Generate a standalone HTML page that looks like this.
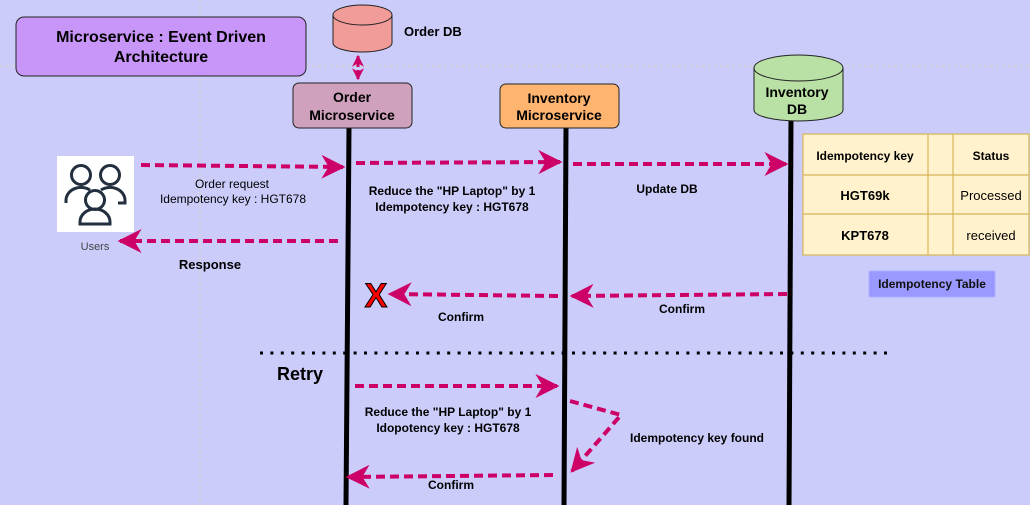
<!DOCTYPE html>
<html><head><meta charset="utf-8"><style>
html,body{margin:0;padding:0;background:#ccccfb;}
svg{display:block;font-family:"Liberation Sans",Arial,sans-serif;}
</style></head><body>
<svg width="1030" height="505" viewBox="0 0 1030 505" xmlns="http://www.w3.org/2000/svg">
<defs>
<marker id="ah" viewBox="0 0 10 10" refX="9" refY="5" markerWidth="6" markerHeight="6" orient="auto-start-reverse" markerUnits="strokeWidth">
<path d="M0,0 L10,5 L0,10 L3,5 Z" fill="#cc0066"/></marker>
<marker id="ah2" viewBox="0 0 10 10" refX="9" refY="5" markerWidth="4" markerHeight="4" orient="auto-start-reverse" markerUnits="strokeWidth">
<path d="M0,0 L10,5 L0,10 L3,5 Z" fill="#cc0066"/></marker>
</defs>
<rect width="1030" height="505" fill="#ccccfb"/>
<line x1="200" y1="0" x2="200" y2="505" stroke="#ddd8c0" stroke-dasharray="3 3"/>
<line x1="0" y1="66" x2="1030" y2="66" stroke="#ddd8c0" stroke-dasharray="3 3"/>

<!-- lifelines -->
<line x1="349" y1="128" x2="346" y2="505" stroke="#000" stroke-width="5"/>
<line x1="566" y1="128" x2="564" y2="505" stroke="#000" stroke-width="5"/>
<line x1="791" y1="118" x2="789" y2="505" stroke="#000" stroke-width="5"/>

<!-- title -->
<rect x="16" y="17" width="290" height="59" rx="8" fill="#c896f8" stroke="#222"/>
<text x="161" y="42" font-size="16" font-weight="bold" text-anchor="middle">Microservice : Event Driven</text>
<text x="161" y="62" font-size="16" font-weight="bold" text-anchor="middle">Architecture</text>

<!-- Order DB -->
<path d="M333,15 v28 a29.5,9 0 0 0 59,0 v-28" fill="#f19c99" stroke="#222"/>
<ellipse cx="362.5" cy="15" rx="29.5" ry="10" fill="#f19c99" stroke="#222"/>
<text x="404" y="36" font-size="13" font-weight="bold">Order DB</text>
<line x1="358" y1="56" x2="358" y2="79" stroke="#cc0066" stroke-width="3" stroke-dasharray="4 3" marker-start="url(#ah2)" marker-end="url(#ah2)"/>

<!-- Order MS -->
<rect x="293" y="83" width="119" height="45" rx="6" fill="#cfa1bc" stroke="#222"/>
<text x="352" y="102" font-size="14" font-weight="bold" text-anchor="middle">Order</text>
<text x="352" y="120" font-size="14" font-weight="bold" text-anchor="middle">Microservice</text>

<!-- Inventory MS -->
<rect x="500" y="84" width="119" height="44" rx="6" fill="#ffb570" stroke="#222"/>
<text x="559" y="103" font-size="14" font-weight="bold" text-anchor="middle">Inventory</text>
<text x="559" y="120" font-size="14" font-weight="bold" text-anchor="middle">Microservice</text>

<!-- Inventory DB -->
<path d="M754,68 v42 a44.5,11 0 0 0 89,0 v-42" fill="#b9e0a5" stroke="#222"/>
<ellipse cx="798.5" cy="68" rx="44.5" ry="13" fill="#b9e0a5" stroke="#222"/>
<text x="797" y="97" font-size="14" font-weight="bold" text-anchor="middle">Inventory</text>
<text x="797" y="114" font-size="14" font-weight="bold" text-anchor="middle">DB</text>

<!-- table -->
<g stroke="#d6b656" stroke-width="1.2" fill="#fff2cc">
<rect x="803" y="134" width="226" height="121"/>
<line x1="803" y1="175" x2="1029" y2="175"/>
<line x1="803" y1="214" x2="1029" y2="214"/>
<line x1="928" y1="134" x2="928" y2="255"/>
<line x1="953" y1="134" x2="953" y2="255"/>
</g>
<text x="865" y="160" font-size="12" font-weight="bold" text-anchor="middle">Idempotency key</text>
<text x="991" y="160" font-size="12" font-weight="bold" text-anchor="middle">Status</text>
<text x="865" y="200" font-size="13" font-weight="bold" text-anchor="middle">HGT69k</text>
<text x="991" y="200" font-size="13" text-anchor="middle">Processed</text>
<text x="865" y="240" font-size="13" font-weight="bold" text-anchor="middle">KPT678</text>
<text x="991" y="240" font-size="13" text-anchor="middle">received</text>
<rect x="869" y="271" width="126" height="26" fill="#9999ff" stroke="#aab0ff"/>
<text x="932" y="288" font-size="12" font-weight="bold" text-anchor="middle" fill="#111">Idempotency Table</text>

<!-- users -->
<rect x="57" y="156" width="77" height="76" fill="#fff"/>
<g fill="none" stroke="#232f3e" stroke-width="3">
<circle cx="81" cy="175" r="9.5"/><path d="M66,203 v-3 a15,13 0 0 1 24,-10"/>
<circle cx="110" cy="175" r="9.5"/><path d="M101,190 a15,13 0 0 1 24,10 v3 h-7"/>
<circle cx="95" cy="200" r="9.5"/><path d="M80,224 v-2 a15,13 0 0 1 30,0 v2 z"/>
</g>
<text x="95" y="250" font-size="11" fill="#444" text-anchor="middle">Users</text>

<!-- arrows -->
<g stroke="#cc0066" stroke-width="4" stroke-dasharray="9 5" fill="none">
<line x1="141" y1="165" x2="343" y2="167" marker-end="url(#ah)"/>
<line x1="356" y1="163" x2="560" y2="162" marker-end="url(#ah)"/>
<line x1="573" y1="164" x2="786" y2="164" marker-end="url(#ah)"/>
<line x1="338" y1="241" x2="120" y2="241" marker-end="url(#ah)"/>
<line x1="787" y1="294" x2="572" y2="296" marker-end="url(#ah)"/>
<line x1="558" y1="296" x2="390" y2="294" marker-end="url(#ah)"/>
<line x1="355" y1="386" x2="557" y2="386" marker-end="url(#ah)"/>
<polyline points="570,401 621,415 572,471" marker-end="url(#ah)"/>
<line x1="553" y1="475" x2="348" y2="477" marker-end="url(#ah)"/>
</g>

<line x1="260" y1="353" x2="890" y2="353" stroke="#000" stroke-width="3" stroke-dasharray="3 7.4"/>

<!-- red X -->
<text x="376" y="307" font-size="34" font-weight="bold" fill="#ff0000" stroke="#000" stroke-width="1" text-anchor="middle">X</text>

<!-- labels -->
<g font-size="12" text-anchor="middle" fill="#000">
<text x="232" y="188">Order request</text>
<text x="233" y="203">Idempotency key : HGT678</text>
<text x="452" y="195" font-weight="bold">Reduce the "HP Laptop" by 1</text>
<text x="452" y="211" font-weight="bold">Idempotency key : HGT678</text>
<text x="667" y="193" font-weight="bold">Update DB</text>
<text x="210" y="269" font-size="13" font-weight="bold">Response</text>
<text x="682" y="313" font-weight="bold">Confirm</text>
<text x="461" y="321" font-weight="bold">Confirm</text>
<text x="448" y="416" font-weight="bold">Reduce the "HP Laptop" by 1</text>
<text x="448" y="432" font-weight="bold">Idopotency key : HGT678</text>
<text x="697" y="442" font-weight="bold">Idempotency key found</text>
<text x="451" y="489" font-weight="bold">Confirm</text>
</g>
<text x="300" y="380" font-size="18" font-weight="bold" text-anchor="middle">Retry</text>
</svg>
</body></html>
